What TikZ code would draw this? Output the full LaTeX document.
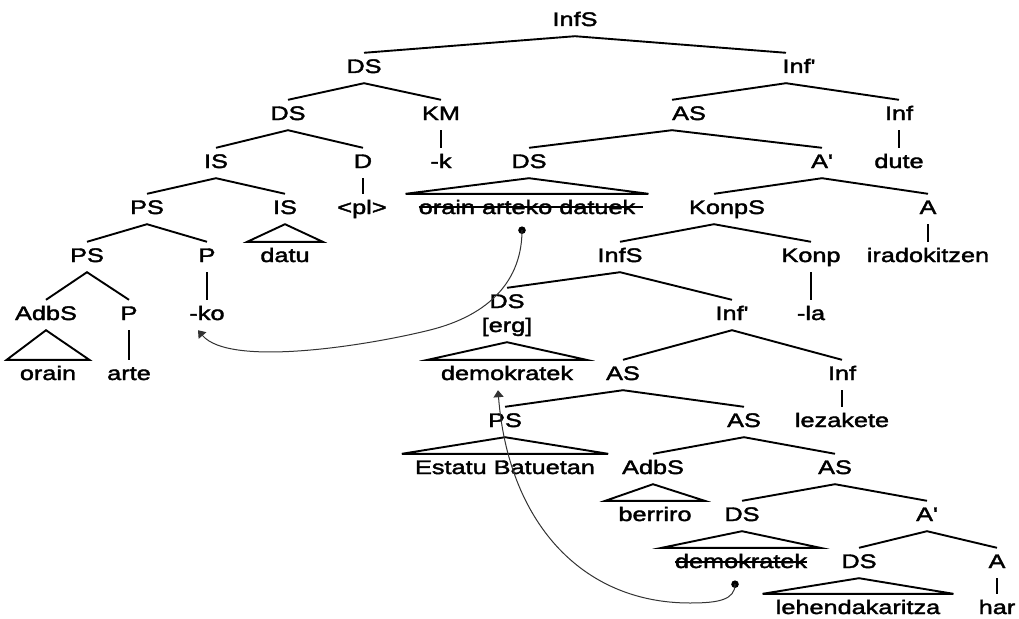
\documentclass[tikz,border=0pt]{standalone}
\usepackage{fontspec}
\newfontfamily\treefont{Liberation Sans}[FakeStretch=1.29,FakeBold=2]
\usetikzlibrary{arrows.meta}
\begin{document}
\begin{tikzpicture}[x=1pt,y=-1pt,
  lab/.style={font=\treefont\fontsize{19.6}{22}\selectfont, anchor=base,
    text height=14pt, text depth=4pt, inner ysep=6pt, inner xsep=2pt},
  tri/.style={lab, inner xsep=13pt},
  br/.style={line width=1.9pt},
  strike/.style={line width=1.3pt},
  mv/.style={line width=1pt, black!80},
  tip/.style={-{Triangle[length=7pt,width=10pt]}}]
\fill[white] (0,0) rectangle (1019,618);
\useasboundingbox (0,0) rectangle (1019,618);
% nodes
\node[lab] (InfSa) at (575,26) {InfS};
\node[lab] (DSa) at (364,73) {DS};
\node[lab] (Infpa) at (799,73) {Inf'};
\node[lab] (DSb) at (288,120) {DS};
\node[lab] (KM) at (441,120) {KM};
\node[lab] (ASa) at (689,120) {AS};
\node[lab] (Infa) at (899,120) {Inf};
\node[lab] (ISa) at (216,168) {IS};
\node[lab] (D) at (363,168) {D};
\node[lab] (k) at (441,168) {-k};
\node[lab] (DSc) at (529,168) {DS};
\node[lab] (Apa) at (822,168) {A'};
\node[lab] (dute) at (899,168) {dute};
\node[lab] (PSa) at (147,214) {PS};
\node[lab] (ISb) at (285,214) {IS};
\node[lab] (pl) at (362,214) {<pl>};
\node[tri] (oad) at (527,214) {orain arteko datuek};
\node[lab] (KonpS) at (727,214) {KonpS};
\node[lab] (Aa) at (928,214) {A};
\node[lab] (PSb) at (87,262) {PS};
\node[lab] (Pa) at (207,262) {P};
\node[tri] (datu) at (285,262) {datu};
\node[lab] (InfSb) at (620,262) {InfS};
\node[lab] (Konp) at (811,262) {Konp};
\node[lab] (irad) at (928,262) {iradokitzen};
\node[lab] (AdbSa) at (46,320) {AdbS};
\node[lab] (Pb) at (129,320) {P};
\node[lab] (ko) at (207,320) {-ko};
\node[lab] (DSd) at (507,308) {DS};
\node[lab] (erg) at (507,332) {[erg]};
\node[lab] (Infpb) at (732,320) {Inf'};
\node[lab] (la) at (811,320) {-la};
\node[tri] (orain) at (48,380) {orain};
\node[lab] (arte) at (129,380) {arte};
\node[tri] (demoka) at (507,380) {demokratek};
\node[lab] (ASb) at (623,380) {AS};
\node[lab] (Infb) at (842,380) {Inf};
\node[lab] (PSc) at (505,427) {PS};
\node[lab] (ASc) at (744,427) {AS};
\node[lab] (lez) at (842,427) {lezakete};
\node[tri] (EB) at (505,474) {Estatu Batuetan};
\node[lab] (AdbSb) at (653,474) {AdbS};
\node[lab] (ASd) at (835,474) {AS};
\node[tri] (berriro) at (655,521) {berriro};
\node[lab] (DSe) at (742,521) {DS};
\node[lab] (Apb) at (927,521) {A'};
\node[tri] (demokb) at (741,568) {demokratek};
\node[lab] (DSf) at (859,568) {DS};
\node[lab] (Ab) at (997,568) {A};
\node[tri] (lehen) at (858,614) {lehendakaritza};
\node[lab] (har) at (997,614) {har};
% branches
\draw[br] (DSa.north) -- (InfSa.south) -- ([xshift=-13pt]Infpa.north);
\draw[br] (DSb.north) -- (DSa.south) -- (KM.north);
\draw[br] ([xshift=-17pt]ASa.north) -- ([xshift=-13pt]Infpa.south) -- (Infa.north);
\draw[br] (ISa.north) -- (DSb.south) -- (D.north);
\draw[br] (KM.south) -- (KM.south |- k.north);
\draw[br] (DSc.north) -- ([xshift=-17pt]ASa.south) -- (Apa.north);
\draw[br] (Infa.south) -- (Infa.south |- dute.north);
\draw[br] (PSa.north) -- (ISa.south) -- (ISb.north);
\draw[br] (D.south) -- (D.south |- pl.north);
\draw[br] (DSc.south) -- (oad.north west) -- (oad.north east) -- cycle;
\draw[br] ([xshift=-13pt]KonpS.north) -- (Apa.south) -- (Aa.north);
\draw[br] (PSb.north) -- (PSa.south) -- (Pa.north);
\draw[br] (ISb.south) -- (datu.north west) -- (datu.north east) -- cycle;
\draw[br] (InfSb.north) -- ([xshift=-13pt]KonpS.south) -- (Konp.north);
\draw[br] (Aa.south) -- (Aa.south |- irad.north);
\draw[br] (AdbSa.north) -- (PSb.south) -- (Pb.north);
\draw[br] (Pa.south) -- (Pa.south |- ko.north);
\draw[br] (DSd.north) -- (InfSb.south) -- (Infpb.north);
\draw[br] (Konp.south) -- (Konp.south |- la.north);
\draw[br] (AdbSa.south) -- (orain.north west) -- (orain.north east) -- cycle;
\draw[br] (Pb.south) -- (Pb.south |- arte.north);
\draw[br] (erg.south) -- (demoka.north west) -- (demoka.north east) -- cycle;
\draw[br] (ASb.north) -- (Infpb.south) -- (Infb.north);
\draw[br] (PSc.north) -- (ASb.south) -- (ASc.north);
\draw[br] (Infb.south) -- (Infb.south |- lez.north);
\draw[br] (PSc.south) -- (EB.north west) -- (EB.north east) -- cycle;
\draw[br] (AdbSb.north) -- (ASc.south) -- (ASd.north);
\draw[br] (AdbSb.south) -- (berriro.north west) -- (berriro.north east) -- cycle;
\draw[br] (DSe.north) -- (ASd.south) -- (Apb.north);
\draw[br] (DSe.south) -- (demokb.north west) -- (demokb.north east) -- cycle;
\draw[br] (DSf.north) -- (Apb.south) -- (Ab.north);
\draw[br] (DSf.south) -- (lehen.north west) -- (lehen.north east) -- cycle;
\draw[br] (Ab.south) -- (Ab.south |- har.north);
% strike-throughs
\draw[strike] ([xshift=13pt,yshift=7pt]oad.base west) -- ([xshift=-5pt,yshift=7pt]oad.base east);
\draw[strike] ([xshift=13pt,yshift=6pt]demokb.base west) -- ([xshift=-13pt,yshift=6pt]demokb.base east);
% movement
\coordinate (m1s) at ([xshift=-5pt,yshift=-6pt]oad.south);
\coordinate (m1e) at ([xshift=-9pt]ko.south);
\coordinate (m2s) at ([xshift=-6pt,yshift=-6pt]demokb.south);
\coordinate (m2e) at ([xshift=-9pt]demoka.south);
\fill (m1s) circle (3.8pt);
\fill (m2s) circle (3.8pt);
\draw[mv,tip] (m1s) .. controls (522,280) and (490,315) .. (430,330)
  .. controls (370,345) and (230,368) .. (m1e);
\draw[mv,tip] (m2s) .. controls (735,600) and (718,603) .. (690,603)
  .. controls (580,603) and (508,520) .. (m2e);
\end{tikzpicture}
\end{document}
